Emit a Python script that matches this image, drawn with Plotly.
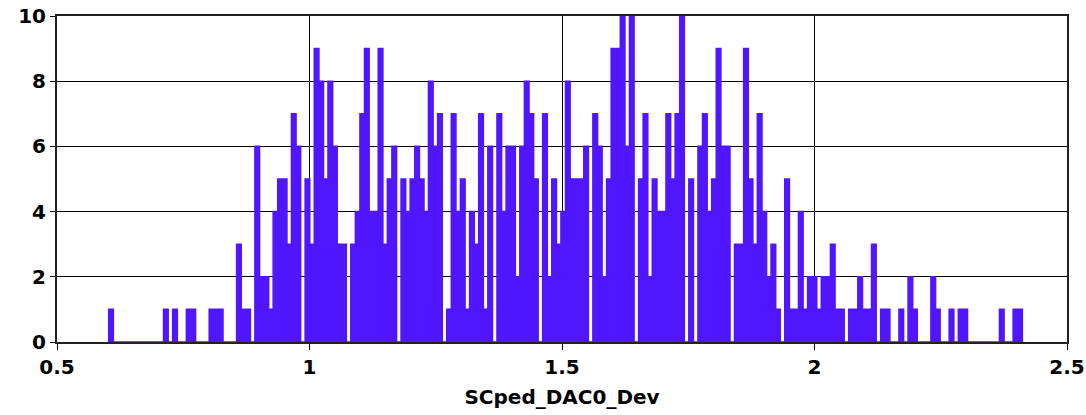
import numpy as np
import plotly.graph_objects as go

# ---- data ----
x_min = 0.6025
x_max = 2.4115
n_bins = 200
counts = [
    1, 0, 0, 0, 0, 0, 0, 0, 0, 0,   # 0-9
    0, 0, 1, 0, 1, 0, 0, 1, 1, 0,   # 10-19
    0, 0, 1, 1, 1, 0, 0, 0, 3, 1,   # 20-29
    1, 0, 6, 2, 2, 1, 4, 5, 5, 3,   # 30-39
    7, 6, 0, 5, 3, 9, 8, 5, 8, 6,   # 40-49
    3, 3, 0, 3, 4, 7, 9, 4, 4, 9,   # 50-59
    3, 5, 6, 0, 5, 4, 5, 6, 5, 4,   # 60-69
    8, 6, 7, 0, 1, 7, 4, 5, 1, 4,   # 70-79
    3, 7, 1, 6, 0, 7, 4, 6, 6, 2,   # 80-89
    6, 8, 7, 5, 0, 7, 2, 5, 3, 4,   # 90-99
    8, 5, 5, 5, 6, 0, 7, 6, 2, 5,   # 100-109
    9, 9, 10, 6, 10, 0, 5, 7, 2, 5, # 110-119
    4, 4, 7, 5, 7, 10, 0, 5, 0, 6,  # 120-129
    7, 4, 5, 9, 6, 6, 0, 3, 3, 9,   # 130-139
    5, 3, 7, 4, 2, 3, 1, 0, 5, 1,   # 140-149
    1, 4, 1, 2, 2, 1, 2, 2, 3, 1,   # 150-159
    1, 0, 1, 1, 2, 1, 1, 3, 0, 1,   # 160-169
    1, 0, 0, 1, 0, 2, 1, 0, 0, 0,   # 170-179
    2, 1, 0, 0, 1, 0, 1, 1, 0, 0,   # 180-189
    0, 0, 0, 0, 0, 1, 0, 0, 1, 1,   # 190-199
]
x_ticks = [0.5, 1, 1.5, 2, 2.5]
x_tick_labels = ["0.5", "1", "1.5", "2", "2.5"]
y_ticks = [0, 2, 4, 6, 8, 10]
x_title = "SCped_DAC0_Dev"

# ---- build step outline from bin edges ----
edges = np.linspace(x_min, x_max, n_bins + 1)
xs = [edges[0]] + list(edges[:-1]) + [edges[-1], edges[-1]]
ys = [0] + list(counts) + [counts[-1], 0]

bar_color = "rgb(80,22,255)"
font_family = "'DejaVu Sans', Verdana, sans-serif"
tick_font = dict(family=font_family, size=20, color="black", weight="bold")

fig = go.Figure()
fig.add_trace(go.Scatter(
    x=xs, y=ys,
    mode="lines",
    line=dict(shape="hv", color=bar_color, width=1.6),
    fill="tozeroy",
    fillcolor=bar_color,
    hoverinfo="skip",
    showlegend=False,
))

fig.update_layout(
    width=1086, height=415,
    margin=dict(l=57, r=19, t=16, b=73),
    paper_bgcolor="white",
    plot_bgcolor="white",
    font=dict(family=font_family, size=20, color="black", weight="bold"),
)
fig.update_xaxes(
    range=[0.5, 2.5], automargin=False,
    tickmode="array", tickvals=x_ticks, ticktext=x_tick_labels,
    ticks="outside", ticklen=6, tickwidth=1, tickcolor="black",
    showgrid=True, gridcolor="black", gridwidth=1,
    showline=True, linecolor="#222", linewidth=2, mirror=True,
    zeroline=False,
    tickfont=tick_font,
    title=dict(text=x_title, standoff=12, font=tick_font),
)
fig.update_yaxes(
    range=[0, 10], automargin=False,
    tickmode="array", tickvals=y_ticks,
    ticks="outside", ticklen=5, tickwidth=1, tickcolor="black",
    showgrid=True, gridcolor="black", gridwidth=1,
    showline=True, linecolor="#222", linewidth=2, mirror=True,
    zeroline=False,
    tickfont=tick_font,
)

fig.write_html("out.html")
